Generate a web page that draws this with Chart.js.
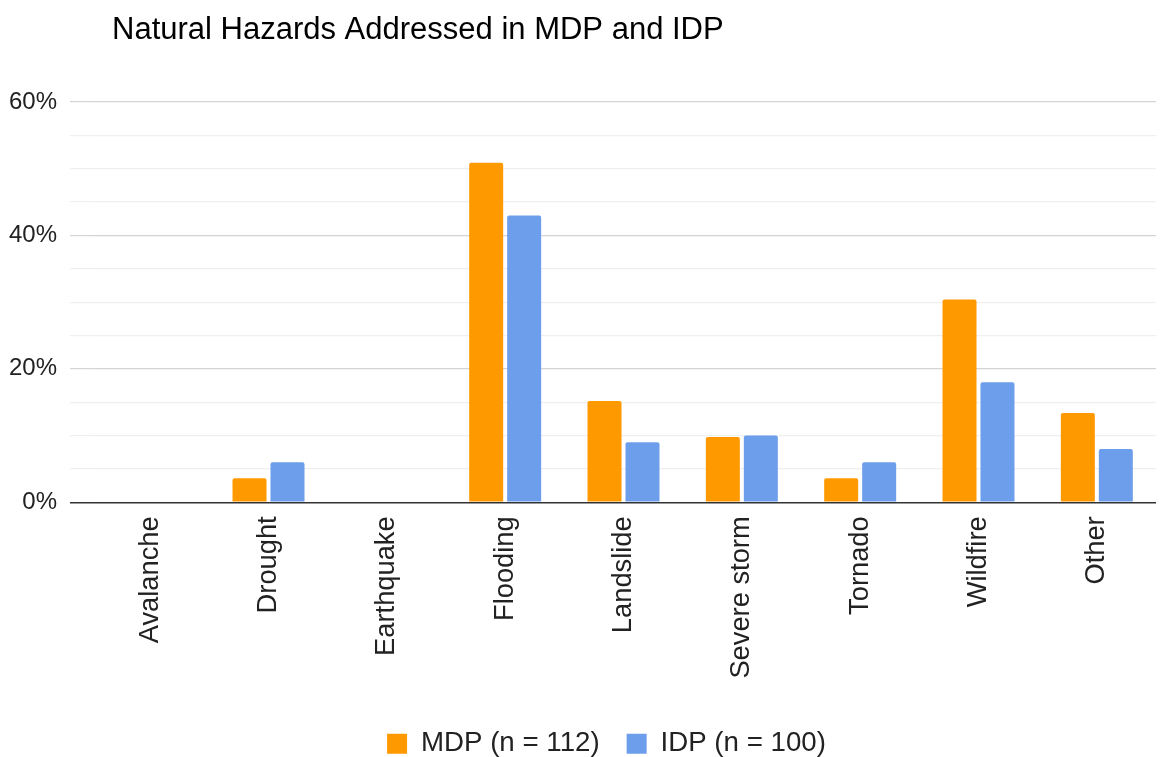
<!DOCTYPE html>
<html>
<head>
<meta charset="utf-8">
<script src="https://cdn.jsdelivr.net/npm/chart.js@4/dist/chart.umd.min.js"></script>
<style>
  html, body { margin:0; padding:0; background:#fff; }
  #wrap { width:1162px; height:757px; }
</style>
</head>
<body>
<div id="wrap"><canvas id="chart"></canvas></div>
<script>
// Natural hazards addressed in MDP vs IDP (percent of plans)
const TITLE = "Natural Hazards Addressed in MDP and IDP";
const CATEGORIES = ["Avalanche","Drought","Earthquake","Flooding","Landslide","Severe storm","Tornado","Wildfire","Other"];
const MDP_VALUES = [0, 3.6, 0, 50.9, 15.2, 9.8, 3.6, 30.4, 13.4];
const IDP_VALUES = [0, 6, 0, 43, 9, 10, 6, 18, 8];
const SERIES_LABELS = ["MDP (n = 112)", "IDP (n = 100)"];
const SERIES_COLORS = ["#ff9900", "#6d9eeb"];
const Y_MAX = 60;
const Y_STEP = 5;
const Y_LABEL_EVERY = 20;

const FONT = "'Liberation Sans', Arial, sans-serif";

// move title / legend to where the original puts them
const nudge = {
  id: 'nudge',
  afterLayout(chart){
    chart.titleBlock.left += 112; chart.titleBlock.right += 112;
    chart.legend.left += 28.5; chart.legend.right += 28.5;
    chart.legend.top += 10.5; chart.legend.bottom += 10.5;
  }
};

function gridColor(ctx){
  const v = ctx.tick ? ctx.tick.value : 0;
  if (v === 0) return '#333333';
  return v % Y_LABEL_EVERY === 0 ? '#d4d4d4' : '#efefef';
}

new Chart(document.getElementById("chart").getContext("2d"), {
  type: 'bar',
  data: {
    labels: CATEGORIES,
    datasets: [
      { label: SERIES_LABELS[0], data: MDP_VALUES, backgroundColor: SERIES_COLORS[0], borderRadius: 2 },
      { label: SERIES_LABELS[1], data: IDP_VALUES, backgroundColor: SERIES_COLORS[1], borderRadius: 2 }
    ]
  },
  options: {
    responsive: true,
    maintainAspectRatio: false,
    animation: false,
    categoryPercentage: 0.642,
    barPercentage: 0.895,
    layout: { padding: { top: 0, right: 6, bottom: 0, left: 0 } },
    plugins: {
      title: {
        display: true, text: TITLE, align: 'start', color: '#000',
        font: { family: FONT, size: 31, weight: 'normal', lineHeight: 1.2 },
        padding: { top: 12, bottom: 52.8 }
      },
      legend: {
        position: 'bottom',
        labels: {
          color: '#222', boxWidth: 20, boxHeight: 20, padding: 27,
          font: { family: FONT, size: 27.7 }
        }
      },
      tooltip: { enabled: false }
    },
    scales: {
      x: {
        grid: { display: false, drawTicks: false },
        border: { display: false },
        ticks: {
          color: '#222', font: { family: FONT, size: 27.3 },
          minRotation: 90, maxRotation: 90, autoSkip: false, padding: 14
        },
        afterFit(scale){ scale.height = 190; }
      },
      y: {
        min: 0, max: Y_MAX,
        border: { display: false },
        grid: { color: gridColor, lineWidth: ctx => (ctx.tick && ctx.tick.value === 0) ? 1.5 : 1.2, tickLength: 21 },
        ticks: {
          stepSize: Y_STEP, autoSkip: false, padding: 13,
          color: '#222', font: { family: FONT, size: 24 },
          callback: v => v % Y_LABEL_EVERY === 0 ? v + '%' : ''
        },
        afterFit(scale){ scale.width = 91; }
      }
    }
  },
  plugins: [nudge]
});
</script>
</body>
</html>
